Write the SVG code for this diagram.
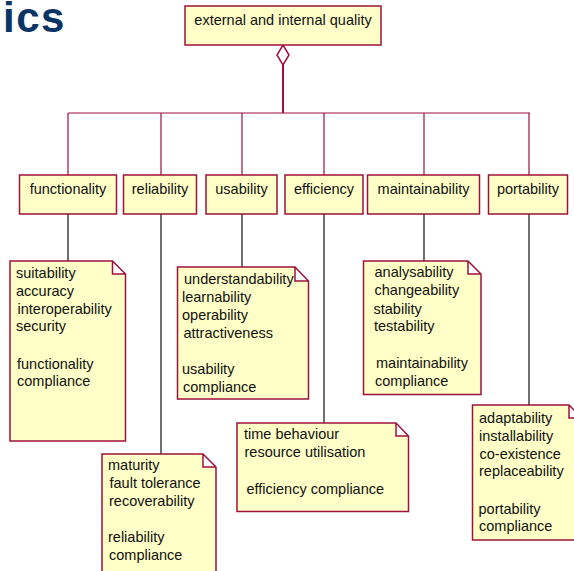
<svg xmlns="http://www.w3.org/2000/svg" width="574" height="571" viewBox="0 0 574 571">
<style>
.box{fill:#ffffc8;stroke:#a0103c;stroke-width:1.5}
.note{fill:#ffffc8;stroke:#a0103c;stroke-width:1.5;stroke-linejoin:miter}
.t{font-family:"Liberation Sans",Arial,sans-serif;font-size:14.5px;fill:#111}
.tc{font-family:"Liberation Sans",Arial,sans-serif;font-size:14.5px;fill:#111;text-anchor:middle}
.agg{stroke:#a0103c;fill:none;stroke-width:1.2}
.dep{stroke:#111;fill:none;stroke-width:1.2}
</style>
<rect width="574" height="571" fill="#fff"/>
<text x="3" y="32" font-family="Liberation Sans,Arial,sans-serif" font-weight="bold" font-size="42" letter-spacing="1.5" fill="#0b3466">ics</text>
<g id="connectors">
<polygon points="283,45 289,55 283,65 277,55" fill="#fff" stroke="#a0103c" stroke-width="1.5"/>
<line x1="283" y1="65" x2="283" y2="113" stroke="#a0103c" stroke-width="2"/>
<path class="agg" d="M68,113 H530 M68,113 V175 M161,113 V175 M242,113 V175 M324,113 V175 M424,113 V175 M529,113 V175"/>
<path class="dep" d="M68,214 V261 M161,214 V454 M242,214 V267 M324,214 V423 M424,214 V261 M529,214 V405"/>
</g>
<g id="quality"><rect class="box" x="185" y="6" width="196" height="39"/><text class="tc" x="283" y="25">external and internal quality</text></g>
<g id="functionality"><rect class="box" x="19.5" y="175" width="97" height="39"/><text class="tc" x="68" y="194">functionality</text></g>
<g id="reliability"><rect class="box" x="123.5" y="175" width="73" height="39"/><text class="tc" x="160" y="194">reliability</text></g>
<g id="usability"><rect class="box" x="206" y="175" width="71" height="39"/><text class="tc" x="241.5" y="194">usability</text></g>
<g id="efficiency"><rect class="box" x="285" y="175" width="78" height="39"/><text class="tc" x="324" y="194">efficiency</text></g>
<g id="maintainability"><rect class="box" x="367.5" y="175" width="112" height="39"/><text class="tc" x="423.5" y="194">maintainability</text></g>
<g id="portability"><rect class="box" x="488.5" y="175" width="79" height="39"/><text class="tc" x="528" y="194">portability</text></g>
<g id="note-functionality">
<path class="note" d="M10,261 H112.5 L125.5,274 V441 H10 Z M112.5,261 V274 H125.5"/>
<text class="t" x="16" y="278">suitability</text>
<text class="t" x="16" y="296">accuracy</text>
<text class="t" x="17.5" y="313.5">interoperability</text>
<text class="t" x="16" y="331">security</text>
<text class="t" x="17" y="368.5">functionality</text>
<text class="t" x="17" y="386">compliance</text>
</g>
<g id="note-reliability">
<path class="note" d="M102,454 H203 L216,467 V575 H102 Z M203,454 V467 H216"/>
<text class="t" x="108" y="469.5">maturity</text>
<text class="t" x="109.5" y="488">fault tolerance</text>
<text class="t" x="109" y="505.5">recoverability</text>
<text class="t" x="108" y="542">reliability</text>
<text class="t" x="109" y="560">compliance</text>
</g>
<g id="note-usability">
<path class="note" d="M177.5,267 H295 L308.5,281 V399 H177.5 Z M295,267 V281 H308.5"/>
<text class="t" x="184" y="283.5">understandability</text>
<text class="t" x="182" y="302">learnability</text>
<text class="t" x="182" y="319.5">operability</text>
<text class="t" x="183.5" y="337.5">attractiveness</text>
<text class="t" x="182" y="374">usability</text>
<text class="t" x="183" y="392">compliance</text>
</g>
<g id="note-efficiency">
<path class="note" d="M237,423 H396 L408.5,436 V511.5 H237 Z M396,423 V436 H408.5"/>
<text class="t" x="244" y="439">time behaviour</text>
<text class="t" x="244.5" y="457">resource utilisation</text>
<text class="t" x="246.5" y="493.5">efficiency compliance</text>
</g>
<g id="note-maintainability">
<path class="note" d="M363.5,261 H468 L481,274 V394.5 H363.5 Z M468,261 V274 H481"/>
<text class="t" x="374.5" y="277">analysability</text>
<text class="t" x="374.5" y="294.5">changeability</text>
<text class="t" x="373.5" y="313.5">stability</text>
<text class="t" x="374" y="331">testability</text>
<text class="t" x="376" y="368">maintainability</text>
<text class="t" x="375" y="385.5">compliance</text>
</g>
<g id="note-portability">
<path class="note" d="M472.5,405 H569 L582,418 V540 H472.5 Z M569,405 V418 H582"/>
<text class="t" x="479" y="423">adaptability</text>
<text class="t" x="479" y="440.5">installability</text>
<text class="t" x="479.5" y="458.5">co-existence</text>
<text class="t" x="479" y="476">replaceability</text>
<text class="t" x="478.5" y="513.5">portability</text>
<text class="t" x="479" y="531">compliance</text>
</g>
</svg>
